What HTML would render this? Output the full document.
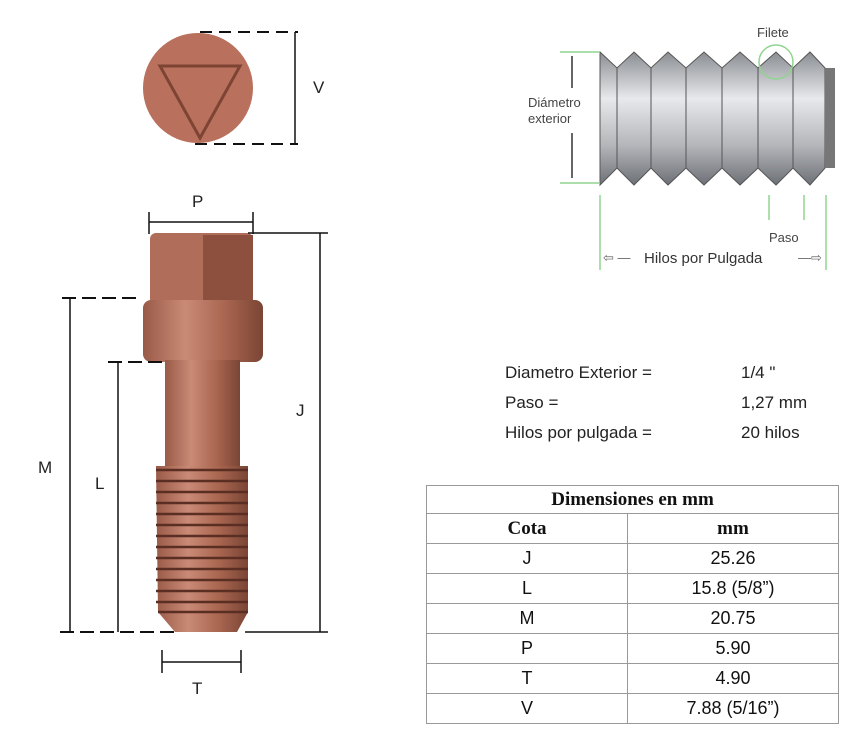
<!DOCTYPE html>
<html><head><style>
body{margin:0;background:#fff;width:855px;height:741px;overflow:hidden;position:relative;font-family:"Liberation Sans",sans-serif}
.t{position:absolute;font-size:17px;color:#222}
table{position:absolute;left:426px;top:485px;width:413px;border-collapse:collapse;font-size:18px}
td{border:1px solid #999;text-align:center;height:29px;padding:0;color:#111}
.h{font-family:"Liberation Serif",serif;font-weight:bold;font-size:19px}
</style></head><body>
<svg width="855" height="741" style="position:absolute;left:0;top:0">
<defs>
<linearGradient id="cu" x1="0" x2="1"><stop offset="0" stop-color="#9a5a48"/><stop offset=".35" stop-color="#c98a76"/><stop offset=".7" stop-color="#a7644f"/><stop offset="1" stop-color="#7a4535"/></linearGradient>
<linearGradient id="gr" x1="0" x2="0" y1="0" y2="1"><stop offset="0" stop-color="#8a8d92"/><stop offset=".35" stop-color="#e8e9ec"/><stop offset=".7" stop-color="#b4b6ba"/><stop offset="1" stop-color="#6d7076"/></linearGradient>
</defs>
<!-- top circle -->
<circle cx="198" cy="88" r="55" fill="#b9705d"/>
<polygon points="160,66 240,66 200,138" fill="none" stroke="#7d4434" stroke-width="3"/>
<line x1="200" y1="32" x2="298" y2="32" stroke="#111" stroke-width="2" stroke-dasharray="12,7"/>
<line x1="195" y1="144" x2="298" y2="144" stroke="#111" stroke-width="2" stroke-dasharray="12,7"/>
<line x1="295" y1="32" x2="295" y2="144" stroke="#111" stroke-width="1.5"/>
<text x="313" y="93" font-size="17" fill="#222">V</text>
<!-- bolt -->
<line x1="149" y1="222" x2="253" y2="222" stroke="#111" stroke-width="1.5"/>
<line x1="149" y1="212" x2="149" y2="234" stroke="#111" stroke-width="1.5"/>
<line x1="253" y1="212" x2="253" y2="234" stroke="#111" stroke-width="1.5"/>
<text x="192" y="207" font-size="17" fill="#222">P</text>
<rect x="150" y="233" width="103" height="72" rx="6" fill="#b06e5a"/>
<rect x="203" y="235" width="50" height="70" fill="#8d4f3e"/>
<rect x="143" y="300" width="120" height="62" rx="8" fill="url(#cu)"/>
<rect x="165" y="360" width="75" height="108" fill="url(#cu)"/>
<path d="M156 466 H248 V612 L237 632 H175 L158 612 Z" fill="url(#cu)"/>
<g stroke="#5a2e22" stroke-width="2.5">
<line x1="156" y1="470" x2="248" y2="470"/><line x1="156" y1="481" x2="248" y2="481"/><line x1="156" y1="492" x2="248" y2="492"/><line x1="156" y1="503" x2="248" y2="503"/><line x1="156" y1="514" x2="248" y2="514"/><line x1="156" y1="525" x2="248" y2="525"/><line x1="156" y1="536" x2="248" y2="536"/><line x1="156" y1="547" x2="248" y2="547"/><line x1="156" y1="558" x2="248" y2="558"/><line x1="156" y1="569" x2="248" y2="569"/><line x1="156" y1="580" x2="248" y2="580"/><line x1="156" y1="591" x2="248" y2="591"/><line x1="156" y1="602" x2="248" y2="602"/><line x1="158" y1="612" x2="248" y2="612"/>
</g>
<!-- J -->
<line x1="248" y1="233" x2="328" y2="233" stroke="#111" stroke-width="1.5"/>
<line x1="245" y1="632" x2="328" y2="632" stroke="#111" stroke-width="1.5"/>
<line x1="320" y1="233" x2="320" y2="632" stroke="#111" stroke-width="1.5"/>
<text x="296" y="416" font-size="17" fill="#222">J</text>
<!-- M -->
<line x1="62" y1="298" x2="140" y2="298" stroke="#111" stroke-width="2" stroke-dasharray="14,6"/>
<line x1="60" y1="632" x2="175" y2="632" stroke="#111" stroke-width="2" stroke-dasharray="14,6"/>
<line x1="70" y1="298" x2="70" y2="632" stroke="#111" stroke-width="1.5"/>
<text x="38" y="473" font-size="17" fill="#222">M</text>
<!-- L -->
<line x1="108" y1="362" x2="168" y2="362" stroke="#111" stroke-width="2" stroke-dasharray="14,6"/>
<line x1="118" y1="362" x2="118" y2="632" stroke="#111" stroke-width="1.5"/>
<text x="95" y="489" font-size="17" fill="#222">L</text>
<!-- T -->
<line x1="162" y1="662" x2="241" y2="662" stroke="#111" stroke-width="1.5"/>
<line x1="162" y1="650" x2="162" y2="673" stroke="#111" stroke-width="1.5"/>
<line x1="241" y1="650" x2="241" y2="673" stroke="#111" stroke-width="1.5"/>
<text x="192" y="694" font-size="17" fill="#222">T</text>
<!-- thread picture -->
<path d="M600 52 L617 68 L634 52 L651 68 L668 52 L686 68 L704 52 L722 68 L740 52 L758 68 L776 52 L793 68 L810 52 L825 68 V168 L810 185 L793 168 L776 185 L758 168 L740 185 L722 168 L704 185 L686 168 L668 185 L651 168 L634 185 L617 168 L600 185 Z" fill="url(#gr)" stroke="#555" stroke-width="1"/>
<g stroke="#555" stroke-width="1"><line x1="617" y1="68" x2="617" y2="168"/><line x1="651" y1="68" x2="651" y2="168"/><line x1="686" y1="68" x2="686" y2="168"/><line x1="722" y1="68" x2="722" y2="168"/><line x1="758" y1="68" x2="758" y2="168"/><line x1="793" y1="68" x2="793" y2="168"/></g>
<rect x="825" y="68" width="10" height="100" fill="#777"/>
<g stroke="#8fd48f" stroke-width="1.5" fill="none">
<line x1="560" y1="52" x2="600" y2="52"/><line x1="560" y1="183" x2="600" y2="183"/>
<line x1="600" y1="195" x2="600" y2="270"/><line x1="769" y1="195" x2="769" y2="220"/><line x1="804" y1="195" x2="804" y2="220"/><line x1="826" y1="195" x2="826" y2="270"/>
<circle cx="776" cy="62" r="17"/>
</g>
<line x1="572" y1="56" x2="572" y2="88" stroke="#666" stroke-width="2"/><line x1="572" y1="133" x2="572" y2="178" stroke="#666" stroke-width="2"/>
<text x="528" y="107" font-size="13" fill="#444">Diámetro</text>
<text x="528" y="123" font-size="13" fill="#444">exterior</text>
<text x="757" y="37" font-size="13" fill="#444">Filete</text>
<text x="769" y="242" font-size="13" fill="#444">Paso</text>
<text x="603" y="262" font-size="13" fill="#666">⇦ —</text>
<text x="644" y="263" font-size="15" fill="#333">Hilos por Pulgada</text>
<text x="798" y="262" font-size="13" fill="#666">—⇨</text>
</svg>
<div class="t" style="left:505px;top:363px">Diametro Exterior =</div>
<div class="t" style="left:741px;top:363px">1/4 "</div>
<div class="t" style="left:505px;top:393px">Paso =</div>
<div class="t" style="left:741px;top:393px">1,27 mm</div>
<div class="t" style="left:505px;top:423px">Hilos por pulgada =</div>
<div class="t" style="left:741px;top:423px">20 hilos</div>
<table>
<tr><td colspan="2" class="h" style="height:27px">Dimensiones en mm</td></tr>
<tr><td class="h" style="width:200px;height:27px">Cota</td><td class="h">mm</td></tr>
<tr><td>J</td><td>25.26</td></tr>
<tr><td>L</td><td>15.8 (5/8”)</td></tr>
<tr><td>M</td><td>20.75</td></tr>
<tr><td>P</td><td>5.90</td></tr>
<tr><td>T</td><td>4.90</td></tr>
<tr><td>V</td><td>7.88 (5/16”)</td></tr>
</table>
</body></html>
